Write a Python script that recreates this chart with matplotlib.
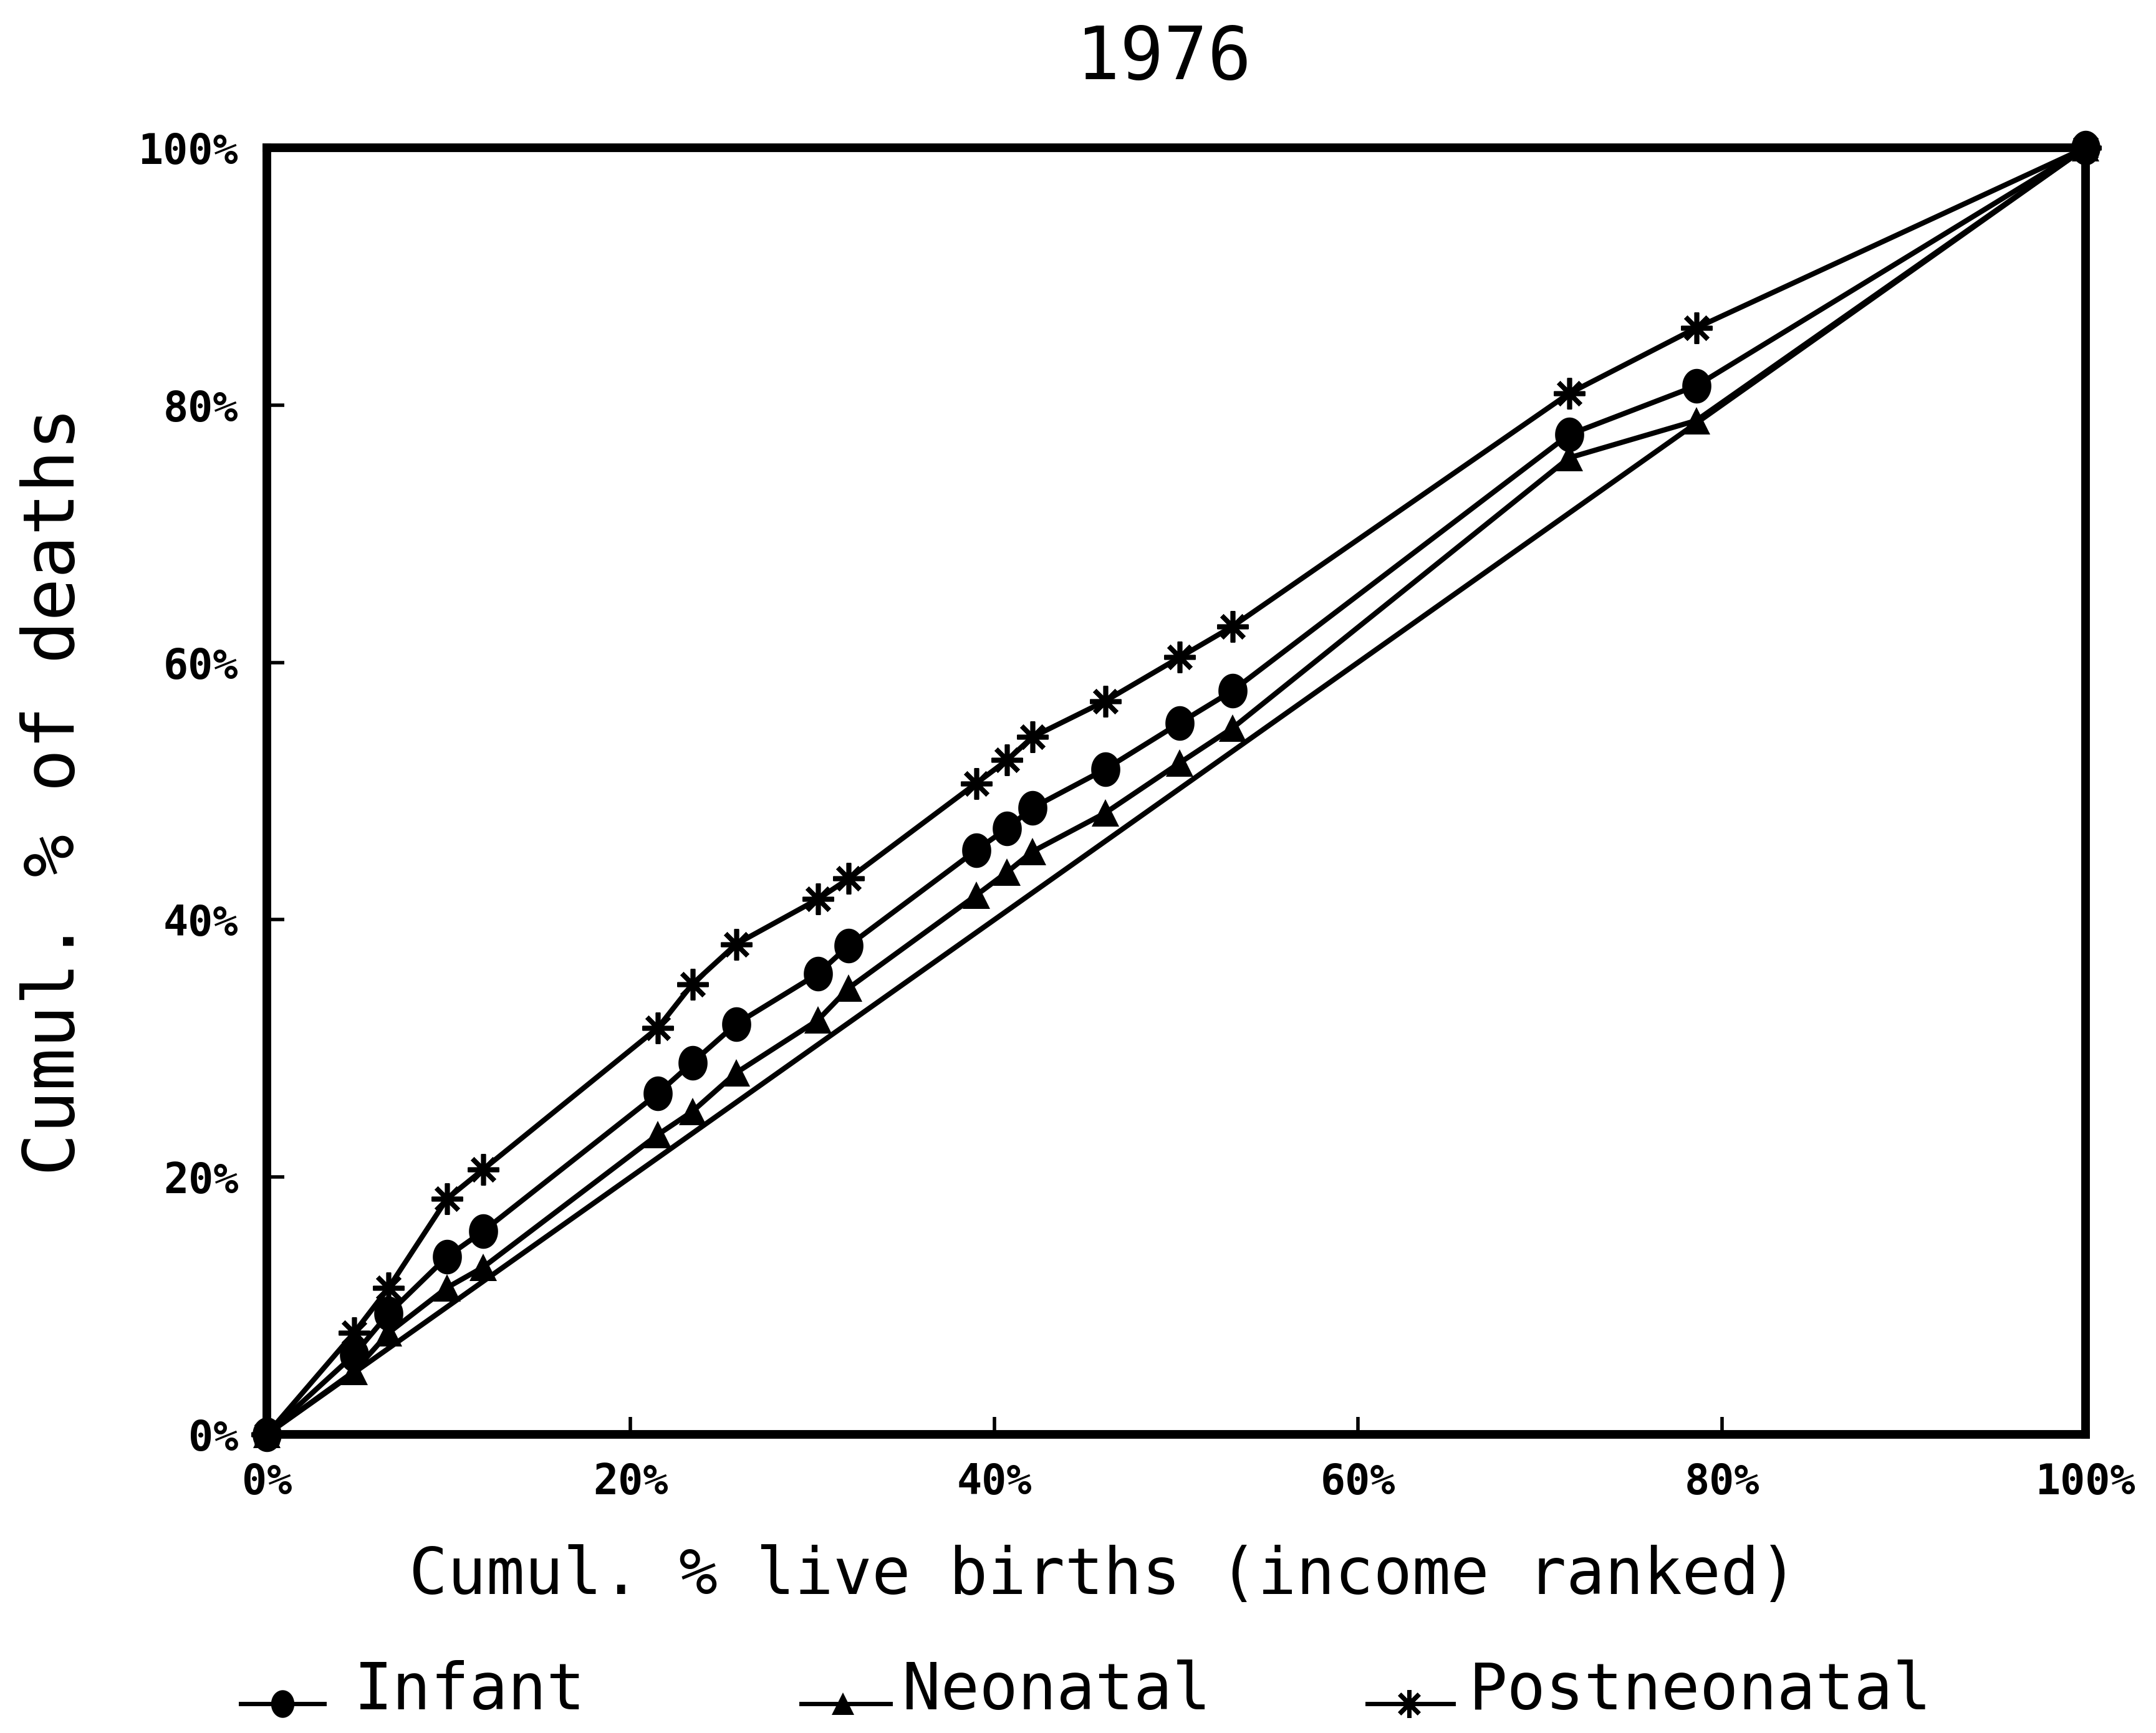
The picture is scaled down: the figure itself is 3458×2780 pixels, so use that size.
import numpy as np
import matplotlib
matplotlib.use("Agg")
import matplotlib.pyplot as plt
from matplotlib.path import Path

# cumulative % of live births, ranked by income
births_cum = [0, 4.8, 6.7, 9.9, 11.9, 21.5, 23.4, 25.8, 30.3, 32.0,
              39.0, 40.7, 42.1, 46.1, 50.2, 53.1, 71.6, 78.6, 100]

# cumulative % of deaths for each mortality type
infant_cum = [0, 6.2, 9.4, 13.8, 15.8, 26.5, 28.9, 31.9, 35.8, 38.0,
              45.4, 47.1, 48.7, 51.7, 55.3, 57.8, 77.7, 81.5, 100]
neonatal_cum = [0, 4.9, 7.9, 11.4, 13.0, 23.3, 25.1, 28.1, 32.2, 34.7,
                41.9, 43.7, 45.3, 48.3, 52.2, 54.9, 75.9, 78.8, 100]
postneonatal_cum = [0, 7.9, 11.4, 18.3, 20.6, 31.6, 35.0, 38.1, 41.6, 43.2,
                    50.6, 52.4, 54.2, 57.0, 60.4, 62.8, 80.9, 86.0, 100]

# line of equality
equal_x = [0, 100]
equal_y = [0, 100]

ticks = [0, 20, 40, 60, 80, 100]
tick_labels = ["0%", "20%", "40%", "60%", "80%", "100%"]

MONO = "DejaVu Sans Mono"

# slightly tall dot, like the plotter's filled circle
theta = np.linspace(0, 2 * np.pi, 64)
dot = Path(np.column_stack([0.84 * np.cos(theta), np.sin(theta)]), closed=True)
star = (8, 2, 0)

W, H = 3458, 2780
fig = plt.figure(figsize=(W / 100, H / 100), dpi=100)
ax = fig.add_axes([428 / W, 1 - 2301 / H, 2917 / W, 2064 / H])

lw = 6
ax.plot(equal_x, equal_y, color="black", lw=lw, solid_capstyle="round",
        clip_on=False)
ax.plot(births_cum, neonatal_cum, color="black", lw=lw, marker="^",
        markersize=32, markeredgewidth=0, clip_on=False)
ax.plot(births_cum, infant_cum, color="black", lw=lw, marker=dot,
        markersize=40, markeredgewidth=0, clip_on=False)
ax.plot(births_cum, postneonatal_cum, color="black", lw=lw, marker=star,
        markersize=36, markeredgewidth=5.5, clip_on=False)

ax.set_xlim(0, 100)
ax.set_ylim(0, 100)
ax.set_xticks(ticks)
ax.set_yticks(ticks)
ax.set_xticklabels(tick_labels)
ax.set_yticklabels(tick_labels)
for lab in ax.get_xticklabels() + ax.get_yticklabels():
    lab.set_family(MONO)
    lab.set_fontweight("bold")
    lab.set_fontsize(48)
ax.tick_params(axis="both", direction="in", length=20, width=4, color="black")
ax.tick_params(axis="x", pad=32)
ax.tick_params(axis="y", pad=33)
for sp in ax.spines.values():
    sp.set_linewidth(10)
    sp.set_color("black")

ax.set_xlabel("Cumul. % live births (income ranked)", family=MONO,
              fontsize=74, va="baseline")
ax.xaxis.set_label_coords(0.46, -0.124)
ax.set_ylabel("Cumul. % of deaths", family=MONO, fontsize=82, va="center")
ax.yaxis.set_label_coords((88 - 428) / 2917, 0.5)

fig.text(1867 / W, 1 - 127 / H, "1976", family=MONO, fontsize=84,
         ha="center", va="baseline")

# legend drawn along the bottom in figure pixels
lax = fig.add_axes([0, 0, 1, 1], zorder=-1)
lax.set_xlim(0, W)
lax.set_ylim(H, 0)
lax.axis("off")
entries = [
    ("Infant", 386, 520, 453, dot, 32, 0, 568),
    ("Neonatal", 1285, 1428, 1352, "^", 26, 0, 1447),
    ("Postneonatal", 2193, 2331, 2260, star, 32, 5, 2355),
]
for name, x0, x1, xm, mk, ms, mew, xt in entries:
    lax.plot([x0, x1], [2733, 2733], color="black", lw=5)
    lax.plot([xm], [2733], color="black", marker=mk, markersize=ms,
             markeredgewidth=mew)
    lax.text(xt, 2742, name, family=MONO, fontsize=74, ha="left",
             va="baseline")

fig.savefig("out.png", dpi=100, facecolor="white")
